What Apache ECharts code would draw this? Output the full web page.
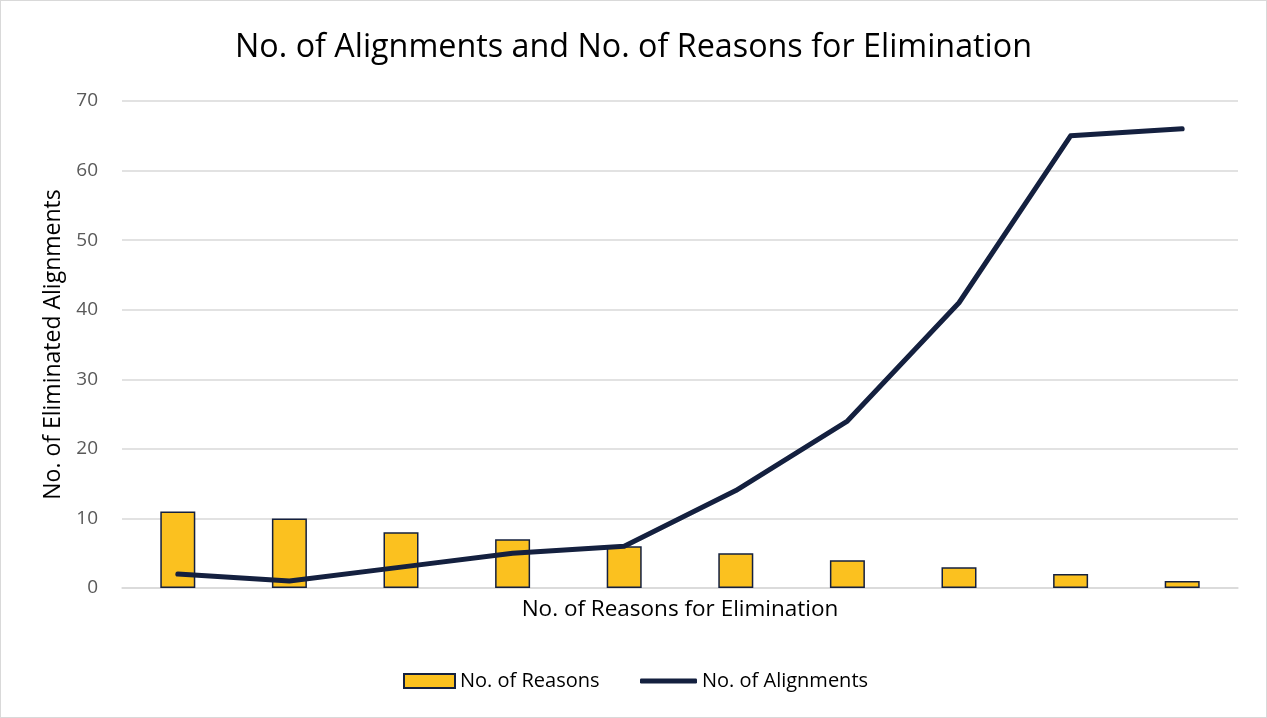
<!DOCTYPE html>
<html><head><meta charset="utf-8">
<script src="https://cdn.jsdelivr.net/npm/echarts@6/dist/echarts.min.js"></script>
<style>
html,body{margin:0;padding:0;background:#fff;}
#frame{position:absolute;left:0;top:0;width:1265px;height:716px;border:1px solid #d9d9d9;}
#c{position:absolute;left:0;top:0;width:1267px;height:718px;}
</style></head>
<body><div id="frame"></div><div id="c"></div>
<script>
const categories = ['1','2','3','4','5','6','7','8','9','10'];
const reasons = [11,10,8,7,6,5,4,3,2,1];
const alignments = [2,1,3,5,6,14,24,41,65,66];
const yTicks = {min:0,max:70,interval:10};
const FONT = '"Open Sans", "Noto Sans", sans-serif';
const chart = echarts.init(document.getElementById('c'));
chart.setOption({
  animation:false,
  title:{text:'No. of Alignments and No. of Reasons for Elimination',left:'center',top:27,
    textStyle:{fontFamily:FONT,fontSize:32.3,fontWeight:'normal',color:'#000'}},
  legend:[
    {left:398,top:666,itemWidth:51,itemHeight:14,
     textStyle:{fontFamily:FONT,fontSize:20,color:'#000'},
     data:[{name:'No. of Reasons',icon:'rect'}]},
    {left:635,top:666,itemWidth:57,itemHeight:5,
     textStyle:{fontFamily:FONT,fontSize:20,color:'#000'},
     data:[{name:'No. of Alignments',icon:'roundRect'}]}
  ],
  grid:{left:122,right:29,top:101,bottom:130},
  xAxis:{type:'category',data:categories,name:'No. of Reasons for Elimination',nameLocation:'middle',nameGap:10,
    nameTextStyle:{fontFamily:FONT,fontSize:22.5,color:'#000',verticalAlign:'top'},
    axisLabel:{show:false},axisTick:{show:false},axisLine:{lineStyle:{color:'#d9d9d9',width:1.5}}},
  yAxis:{type:'value',min:yTicks.min,max:yTicks.max,interval:yTicks.interval,
    name:'No. of Eliminated Alignments',nameLocation:'middle',nameGap:50,
    nameTextStyle:{fontFamily:FONT,fontSize:23,color:'#000'},
    axisLabel:{fontFamily:FONT,fontSize:19,color:'#595959',margin:24},
    splitLine:{lineStyle:{color:'#d9d9d9',width:1.5}},axisLine:{show:false},axisTick:{show:false}},
  series:[
    {name:'No. of Reasons',type:'bar',data:reasons,barWidth:35,
      itemStyle:{color:'#fbc11f',borderColor:'#14203f',borderWidth:1.5}},
    {name:'No. of Alignments',type:'line',data:alignments,symbol:'none',
      lineStyle:{color:'#14203f',width:5,cap:'round',join:'round'},itemStyle:{color:'#14203f'}}
  ]
});
</script></body></html>
